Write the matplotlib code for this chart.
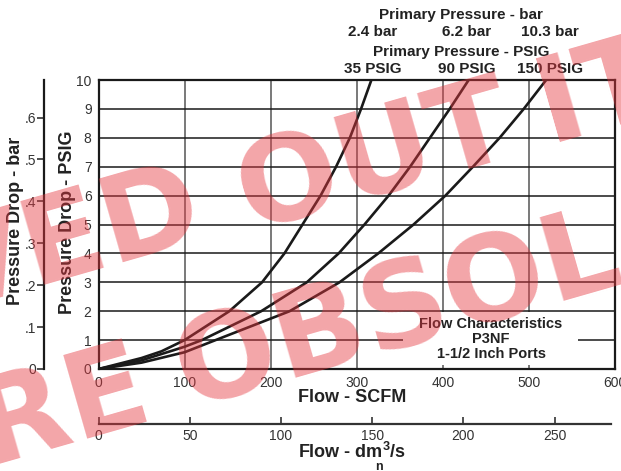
import matplotlib
matplotlib.use('Agg')
import matplotlib.pyplot as plt
import numpy as np

# flow (SCFM) vs pressure drop (PSIG)
flow_35 = [0, 50, 73, 100, 152, 190, 216, 237, 258, 276, 292, 305, 317]
dp_35 = [0, 0.38, 0.61, 1, 2, 3, 4, 5, 6, 7, 8, 9, 10]
flow_90 = [0, 50, 100, 120, 189, 242, 279, 309, 337, 362, 385, 408, 430]
dp_90 = [0, 0.3, 0.77, 1, 2, 3, 4, 5, 6, 7, 8, 9, 10]
flow_150 = [0, 50, 100, 136, 222, 280, 325, 366, 403, 435, 466, 494, 520]
dp_150 = [0, 0.22, 0.58, 1, 2, 3, 4, 5, 6, 7, 8, 9, 10]

bar_labels = ['2.4 bar', '6.2 bar', '10.3 bar']
psig_labels = ['35 PSIG', '90 PSIG', '150 PSIG']
scfm_ticks = [0, 100, 200, 300, 400, 500, 600]
psig_ticks = list(range(0, 11))
bar_ticks = [0, 0.1, 0.2, 0.3, 0.4, 0.5, 0.6]
dm3_ticks = [0, 50, 100, 150, 200, 250]

PSI_TO_BAR = 0.0689476
SCFM_TO_DM3 = 0.4719474

W, H = 621, 471
plt.rcParams['font.family'] = ['Liberation Sans', 'DejaVu Sans']
plt.rcParams['mathtext.fontset'] = 'custom'
plt.rcParams['mathtext.rm'] = 'Liberation Sans:bold'
plt.rcParams['mathtext.bf'] = 'Liberation Sans:bold'

fig = plt.figure(figsize=(W / 100, H / 100), dpi=100)


def box(x0, y0, x1, y1):
    # pixel box (top-left origin) -> figure fraction rect
    return [x0 / W, 1 - y1 / H, (x1 - x0) / W, (y1 - y0) / H]


def px(x, y):
    return x / W, 1 - y / H


tick_col = '#333333'
ink = '#1a1a1a'

# main axes
ax = fig.add_axes(box(98.5, 80, 615, 369))
ax.set_xlim(0, 600)
ax.set_ylim(0, 10)
ax.set_xticks(scfm_ticks)
ax.set_yticks(psig_ticks)
ax.tick_params(length=0, labelsize=10, labelcolor=tick_col, pad=5)
for x in scfm_ticks[1:-1]:
    ax.axvline(x, color='#555555', lw=1.1, zorder=1)
for y in psig_ticks[1:-1]:
    ax.axhline(y, color=ink, lw=1.1, zorder=1)
for s in ax.spines.values():
    s.set_linewidth(1.6)
    s.set_color(ink)

for fx, fy in [(flow_35, dp_35), (flow_90, dp_90), (flow_150, dp_150)]:
    ax.plot(fx, fy, color=ink, lw=1.9, zorder=3, solid_joinstyle='round')

# white patch behind the caption
ax.add_patch(plt.Rectangle((354, 0.14), 203, 1.83, facecolor='white', edgecolor='none', zorder=2))
cap = dict(ha='center', va='center', fontsize=10.5, fontweight='bold', color='#222222', zorder=4)
ax.text(456, 1.55, 'Flow Characteristics', **cap)
ax.text(456, 1.03, 'P3NF', **cap)
ax.text(456, 0.51, '1-1/2 Inch Ports', **cap)

# bar axis on the far left
axb = fig.add_axes(box(44.3, 80, 45, 369))
axb.set_ylim(0, 10 * PSI_TO_BAR)
axb.set_xticks([])
axb.set_yticks(bar_ticks)
axb.set_yticklabels(['0'] + ['.%d' % round(v * 10) for v in bar_ticks[1:]])
axb.tick_params(axis='y', length=5, width=1.2, color='#333333', labelsize=10,
                labelcolor=tick_col, pad=1)
for k in ['top', 'right', 'bottom']:
    axb.spines[k].set_visible(False)
axb.spines['left'].set_linewidth(1.6)
axb.spines['left'].set_color(ink)
axb.patch.set_visible(False)

# dm3/s axis below
axd = fig.add_axes(box(98.5, 422, 611, 423.5))
axd.set_xlim(0, 600 * SCFM_TO_DM3 * (611 - 98.5) / (615 - 98.5))
axd.set_yticks([])
axd.set_xticks(dm3_ticks)
axd.tick_params(axis='x', direction='in', length=5, width=1.2, color='#333333',
                labelsize=10, labelcolor=tick_col, pad=4)
for k in ['top', 'right', 'left']:
    axd.spines[k].set_visible(False)
axd.spines['bottom'].set_linewidth(1.6)
axd.spines['bottom'].set_color('#333333')
axd.patch.set_visible(False)

# labels
lab = dict(fontsize=13, fontweight='bold', color='#222222')
fig.text(*px(352, 397), 'Flow - SCFM', ha='center', va='center', **lab)
fig.text(*px(352, 452), 'Flow - dm$^3$/s', ha='center', va='center', **lab)
fig.text(*px(379, 469.5), 'n', ha='center', va='baseline', fontsize=9, fontweight='bold', color='#222222')
fig.text(*px(16, 221), 'Pressure Drop - bar', ha='center', va='center', rotation=90, **lab)
fig.text(*px(68, 222), 'Pressure Drop - PSIG', ha='center', va='center', rotation=90, **lab)

top = dict(fontsize=11, fontweight='bold', color='#222222', ha='center', va='center')
fig.text(*px(461, 15), 'Primary Pressure - bar', **top)
fig.text(*px(461, 52), 'Primary Pressure - PSIG', **top)
for xc, b, p in zip([373, 467, 550], bar_labels, psig_labels):
    fig.text(*px(xc, 32), b, **top)
    fig.text(*px(xc, 69), p, **top)

# watermark
wm = dict(fontsize=86, fontweight='bold', family='DejaVu Sans', color=(0.9, 0.22, 0.25),
          alpha=0.45, rotation=16, rotation_mode='anchor', ha='center', va='center', zorder=10)
fig.text(*px(68, 244), 'VED', **wm)
fig.text(*px(375, 160), 'OUT', **wm)
fig.text(*px(600, 93), 'IT', **wm)
fig.text(*px(62, 408), 'RE', **wm)
fig.text(*px(398, 312), 'OBSOL', **wm)

fig.savefig('out.png', dpi=100)
